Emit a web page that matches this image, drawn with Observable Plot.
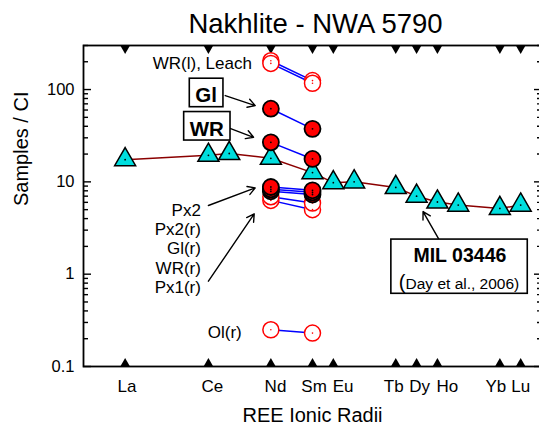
<!DOCTYPE html>
<html><head><meta charset="utf-8">
<script src="https://cdn.jsdelivr.net/npm/d3@7"></script>
<script src="https://cdn.jsdelivr.net/npm/@observablehq/plot@0.6"></script>
<style>
html,body{margin:0;padding:0;background:#fff;}
#chart svg{display:block;overflow:visible;}
</style></head><body><div id="chart"></div>
<script>
// REE order on the ionic-radius axis (position units as plotted)
const reeNames = ["La","Ce","Pr","Nd","Sm","Eu","Gd","Tb","Dy","Ho","Er","Yb","Lu"];
const reePos   = [0, 4, 5, 7, 9, 10, 11, 13, 14, 15, 16, 18, 19];
const axisREE  = ["La","Ce","Nd","Sm","Eu","Tb","Dy","Ho","Yb","Lu"];
const axisLabelShift = [1.8, 4, 4.6, 1.6, 9.7, -2, 3, 10, -4, 0]; // px nudges of the printed names

// MIL 03446 (Day et al., 2006), CI-normalised
const milValues = [17.4, 19.4, 20.3, 18.0, 12.6, 9.8, 10.0, 8.7, 7.0, 6.05, 5.6, 5.15, 5.6];

// NWA 5790 samples, Nd and Sm
const sampleREE = ["Nd","Sm"];
const glValues    = [62, 37.5];
const wrValues    = [26.8, 17.7];
const px2Values   = [8.8, 8.1];
const px2rValues  = [8.3, 7.7];
const glrValues   = [7.9, 7.3];
const wrrValues   = [6.9, 5.9];
const px1rValues  = [6.3, 5.0];
const leachA      = [205, 125];
const leachB      = [192, 117];
const olrValues   = [0.25, 0.23];

const yMajor = [0.1, 1, 10, 100];

// annotation anchors (data units)
const noteText = ["WR(l), Leach", "Px2\nPx2(r)\nGl(r)\nWR(r)\nPx1(r)", "Ol(r)"];
const noteX = [6.09, 3.64, 5.60];
const noteY = [193, 1.91, 0.236];
const boxText = ["Gl", "WR"];
const boxX = [3.89, 3.92];
const boxY = [85.9, 37.4];
const milTitle = "MIL 03446", milRef = "(Day et al., 2006)";
const milTitleX = 16.08, milTitleY = 1.60;
const milRefX = 16.04, milRefY = 0.786;
const arrowX1 = [4.81, 4.88, 4.0, 4.0, 15.06];
const arrowY1 = [86, 39.1, 5.55, 0.84, 2.41];
const arrowX2 = [6.25, 6.17, 6.25, 6.2, 14.31];
const arrowY2 = [67, 30.4, 8.6, 4.5, 4.77];

const posOf = n => reePos[reeNames.indexOf(n)];
const mil = reeNames.map((n, i) => ({x: reePos[i], y: milValues[i]}));
const rows = series => series.flatMap(([name, vals]) => sampleREE.map((r, i) => ({name, x: posOf(r), y: vals[i]})));
const filled = rows([["Gl(r)", glrValues], ["Px2(r)", px2rValues], ["Px2", px2Values], ["Gl", glValues], ["WR", wrValues]]);
const hollow = rows([["Px1(r)", px1rValues], ["WR(r)", wrrValues], ["LeachA", leachA], ["LeachB", leachB], ["Ol(r)", olrValues]]);
const allSamples = hollow.concat(filled);
const axisTicks = axisREE.map(posOf);
const yMinor = d3.scaleLog().domain([0.1, 300]).ticks().filter(v => !yMajor.includes(v));
const notes = noteText.map((t, i) => ({t, x: noteX[i], y: noteY[i]}));
const boxes = boxText.map((t, i) => ({t, x: boxX[i], y: boxY[i]}));
const arrows = arrowX1.map((v, i) => ({x1: v, y1: arrowY1[i], x2: arrowX2[i], y2: arrowY2[i]}));

const triUp = {draw(ctx, size) { const s = Math.sqrt(size * 4 / Math.sqrt(3)), h = s * Math.sqrt(3) / 2; ctx.moveTo(-s/2, 0); ctx.lineTo(s/2, 0); ctx.lineTo(0, -h); ctx.closePath(); }};
const triDown = {draw(ctx, size) { const s = Math.sqrt(size * 4 / Math.sqrt(3)), h = s * Math.sqrt(3) / 2; ctx.moveTo(-s/2, 0); ctx.lineTo(s/2, 0); ctx.lineTo(0, h); ctx.closePath(); }};

const FONT = "'Liberation Sans', Arial, Helvetica, sans-serif";

// one text mark per REE name (each with its own constant nudge)
const xNameMarks = axisREE.map((n, i) =>
  Plot.text([n], {x: () => posOf(n), y: () => 0.1, text: d => d, dy: 19.6, dx: axisLabelShift[i], fontSize: 17}));

const chart = Plot.plot({
  width: 539, height: 427,
  marginLeft: 83, marginRight: -2, marginTop: 45, marginBottom: 61,
  x: {domain: [-2, 20], label: null, axis: null},
  y: {type: "log", domain: [0.1, 300], label: null},
  style: {fontFamily: FONT, background: "white", color: "black", overflow: "visible"},
  marks: [
    // y tick marks (inward) left and right
    Plot.axisY({anchor: "left", ticks: yMinor, tickSize: 5, dx: 5, tickFormat: () => "", label: null, strokeWidth: 1.4}),
    Plot.axisY({anchor: "left", ticks: yMajor, tickSize: 8, dx: 8, tickFormat: () => "", label: null, strokeWidth: 1.4}),
    Plot.axisY({anchor: "right", ticks: yMinor, tickSize: 5, dx: -5, tickFormat: () => "", label: null, strokeWidth: 1.4}),
    Plot.axisY({anchor: "right", ticks: yMajor, tickSize: 8, dx: -8, tickFormat: () => "", label: null, strokeWidth: 1.4}),
    Plot.axisY({anchor: "left", ticks: yMajor, tickSize: 0, tickPadding: 9, tickFormat: d => String(d), fontSize: 16.5, label: null}),
    ...xNameMarks,
    Plot.frame({stroke: "black", strokeWidth: 1.8}),
    // REE markers on top/bottom edges
    Plot.dot(axisTicks, {x: d => d, frameAnchor: "top", symbol: triDown, r: 3.6, fill: "black", stroke: "none"}),
    Plot.dot(axisTicks, {x: d => d, frameAnchor: "bottom", symbol: triUp, r: 3.6, fill: "black", stroke: "none"}),
    // MIL 03446
    Plot.line(mil, {x: "x", y: "y", stroke: "#8b0000", strokeWidth: 1.5}),
    Plot.dot(mil, {x: "x", y: "y", symbol: "triangle", r: 7.8, fill: "#00dede", stroke: "black", strokeWidth: 1.5}),
    Plot.dot(mil, {x: "x", y: "y", r: 0.9, fill: "black", stroke: "none"}),
    // NWA 5790
    Plot.line(allSamples, {x: "x", y: "y", z: "name", stroke: "#0000ff", strokeWidth: 1.5}),
    Plot.dot(hollow, {x: "x", y: "y", r: 8, fill: "white", stroke: "#ff0000", strokeWidth: 1.5}),
    Plot.dot(hollow, {x: "x", y: "y", r: 0.8, fill: "#ff0000", stroke: "none"}),
    Plot.dot(filled, {x: "x", y: "y", r: 8, fill: "#ff0000", stroke: "black", strokeWidth: 1.8}),
    Plot.dot(filled, {x: "x", y: "y", r: 0.9, fill: "black", stroke: "none"}),
    // annotations
    Plot.arrow(arrows, {x1: "x1", y1: "y1", x2: "x2", y2: "y2", stroke: "black", strokeWidth: 1.4, headLength: 9}),
    Plot.text(notes, {x: "x", y: "y", text: "t", textAnchor: "end", fontSize: 17, lineHeight: 1.144}),
    Plot.text(boxes, {x: "x", y: "y", text: "t", fontSize: 20.5, fontWeight: "bold"}),
    Plot.text([milTitle], {x: () => milTitleX, y: () => milTitleY, text: d => d, fontSize: 19.5, fontWeight: "bold"}),
    Plot.text([milRef], {x: () => milRefX, y: () => milRefY, text: d => d, fontSize: 15.5}),
    // titles
    Plot.text(["Nakhlite - NWA 5790"], {frameAnchor: "top", lineAnchor: "middle", dy: -21.2, dx: 3, fontSize: 27.5}),
    Plot.text(["REE Ionic Radii"], {frameAnchor: "bottom", lineAnchor: "middle", dy: 49, fontSize: 20}),
    Plot.text(["Samples / CI"], {frameAnchor: "left", lineAnchor: "middle", dx: -62, rotate: -90, fontSize: 20})
  ]
});
document.getElementById("chart").append(chart);

// boxes around labelled texts
(function () {
  const svg = chart.tagName.toLowerCase() === "svg" ? chart : chart.querySelector("svg");
  const texts = Array.from(svg.querySelectorAll("text"));
  const dayNode = texts.find(t => t.textContent === milRef);
  if (dayNode) {
    dayNode.textContent = "";
    const p = document.createElementNS("http://www.w3.org/2000/svg", "tspan");
    p.setAttribute("font-size", "20"); p.textContent = "(";
    dayNode.append(p, document.createTextNode(milRef.slice(1)));
  }
  const sr = svg.getBoundingClientRect();
  function box(nodes, padX, padTop, padBottom) {
    let x0 = Infinity, y0 = Infinity, x1 = -Infinity, y1 = -Infinity;
    nodes.forEach(n => { const b = n.getBoundingClientRect(); x0 = Math.min(x0, b.left); y0 = Math.min(y0, b.top); x1 = Math.max(x1, b.right); y1 = Math.max(y1, b.bottom); });
    const r = document.createElementNS("http://www.w3.org/2000/svg", "rect");
    r.setAttribute("x", x0 - sr.left - padX); r.setAttribute("y", y0 - sr.top - padTop);
    r.setAttribute("width", x1 - x0 + 2 * padX); r.setAttribute("height", y1 - y0 + padTop + padBottom);
    r.setAttribute("fill", "white"); r.setAttribute("stroke", "black"); r.setAttribute("stroke-width", "1.6");
    const g = nodes[0].parentNode;
    g.parentNode.insertBefore(r, g);
  }
  const all = Array.from(svg.querySelectorAll("text"));
  boxText.forEach(t => { const n = all.find(e => e.textContent === t); if (n) box([n], 6, 5, 0.5); });
  const m = all.filter(e => e.textContent === milTitle || e.textContent === milRef);
  if (m.length) box(m, 8, 4.5, 0.5);
})();
</script>
</body></html>
